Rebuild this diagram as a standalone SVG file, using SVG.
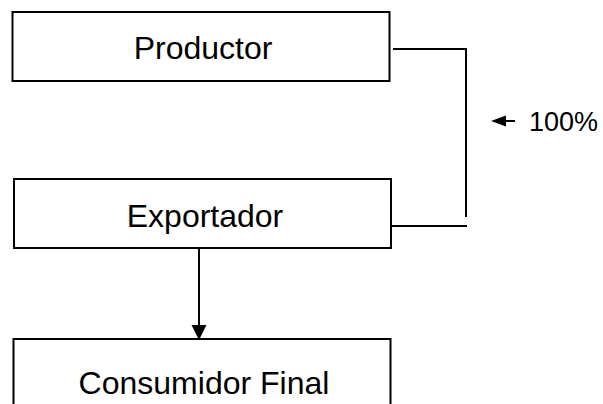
<svg xmlns="http://www.w3.org/2000/svg" width="603" height="404" viewBox="0 0 603 404">
  <defs>
    <style>
      .box { fill: #ffffff; stroke: #000000; stroke-width: 2; }
      .lbl { font-family: "Liberation Sans", Arial, sans-serif; font-size: 32px; fill: #000000; text-anchor: middle; }
      .pct { font-family: "Liberation Sans", Arial, sans-serif; font-size: 27px; fill: #000000; }
      .wire { fill: none; stroke: #000000; stroke-width: 2; }
    </style>
  </defs>

  <g id="productor">
    <rect class="box" x="12.5" y="12" width="377" height="69"/>
    <text class="lbl" x="203" y="59">Productor</text>
  </g>

  <g id="exportador">
    <rect class="box" x="14" y="179" width="377" height="69"/>
    <text class="lbl" x="205" y="227">Exportador</text>
  </g>

  <g id="consumidor">
    <rect class="box" x="13.5" y="339" width="377" height="80"/>
    <text class="lbl" x="204" y="394">Consumidor Final</text>
  </g>

  <g id="connectors">
    <!-- return line from Productor down toward Exportador -->
    <polyline class="wire" points="393,49 466,49 466,217"/>
    <line class="wire" x1="392" y1="226" x2="467" y2="226"/>
    <!-- Exportador to Consumidor Final -->
    <line x1="199" y1="248" x2="199" y2="325" stroke="#000" stroke-width="2"/>
    <path d="M191.5,325 L206.5,325 L199,340 Z" fill="#000000"/>
  </g>

  <g id="share-label">
    <line x1="503" y1="121" x2="515" y2="121" stroke="#000" stroke-width="2"/>
    <path d="M491,121 L506,115.5 L506,126.5 Z" fill="#000000"/>
    <text class="pct" x="529" y="131">100%</text>
  </g>
</svg>
